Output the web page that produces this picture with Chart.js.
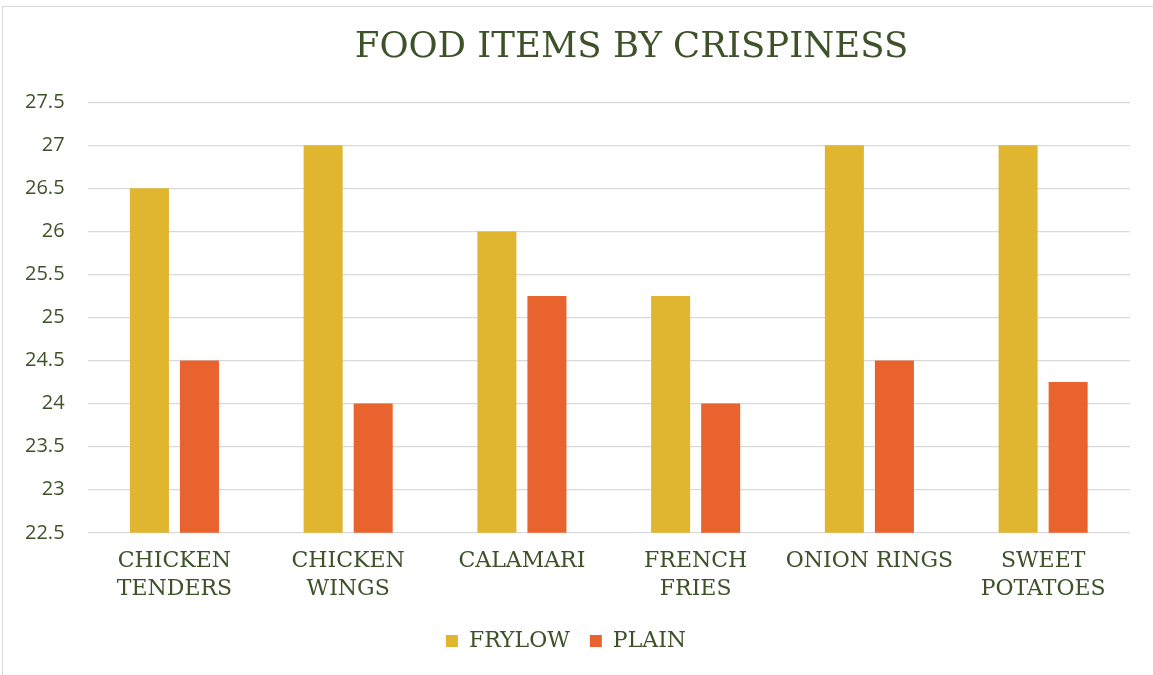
<!DOCTYPE html>
<html>
<head>
<meta charset="utf-8">
<script src="https://cdn.jsdelivr.net/npm/chart.js@4"></script>
<style>
  html, body { margin: 0; padding: 0; background: #fff; overflow: hidden; }
  #frame { position: absolute; left: 2px; top: 6px; width: 1160px; height: 680px; border: 1px solid #d9d9d9; }
  #wrap { position: absolute; left: 0; top: 0; width: 1153px; height: 675px; }
</style>
</head>
<body>
<div id="frame"></div>
<div id="wrap"><canvas id="chart"></canvas></div>
<script>
// food items, split over two lines like the original
var categories = [
  ["CHICKEN", "TENDERS"],
  ["CHICKEN", "WINGS"],
  "CALAMARI",
  ["FRENCH", "FRIES"],
  "ONION RINGS",
  ["SWEET", "POTATOES"]
];
var frylow = [26.5, 27, 26, 25.25, 27, 27];
var plain = [24.5, 24, 25.25, 24, 24.5, 24.25];
var yTicks = ["22.5", "23", "23.5", "24", "24.5", "25", "25.5", "26", "26.5", "27", "27.5"];
var titleText = "FOOD ITEMS BY CRISPINESS";

var green = "#3e5229";
var serif = "'DejaVu Serif', serif";

// the title in the original sits a bit right of centre, so draw it ourselves
// (the built-in title stays on, transparent, only to keep its space)
var shiftedTitle = {
  id: "shiftedTitle",
  afterDraw: function (chart) {
    var t = chart.titleBlock;
    var c = chart.ctx;
    c.save();
    c.fillStyle = green;
    c.font = "35.5px " + serif;
    c.textAlign = "center";
    c.textBaseline = "middle";
    c.fillText(titleText, chart.width / 2 + 55, t.top + (t.height - 33) / 2);
    c.restore();
  }
};

var ctx = document.getElementById("chart").getContext("2d");

new Chart(ctx, {
  type: "bar",
  data: {
    labels: categories,
    datasets: [
      { label: "FRYLOW", data: frylow, backgroundColor: "#e0b530" },
      { label: "PLAIN", data: plain, backgroundColor: "#e8632e" }
    ]
  },
  plugins: [shiftedTitle],
  options: {
    responsive: true,
    maintainAspectRatio: false,
    animation: false,
    categoryPercentage: 0.576,
    barPercentage: 0.78,
    layout: { padding: { top: 26, left: 2, right: 23, bottom: 13 } },
    plugins: {
      title: {
        display: true,
        text: titleText,
        color: "rgba(0,0,0,0)",
        font: { family: serif, size: 36, weight: "normal" },
        padding: { top: 0, bottom: 33 }
      },
      legend: {
        position: "bottom",
        labels: {
          color: green,
          boxWidth: 12,
          boxHeight: 12,
          padding: 20,
          font: { family: serif, size: 22 }
        }
      },
      tooltip: { enabled: false }
    },
    scales: {
      x: {
        grid: { display: false },
        border: { display: false },
        ticks: {
          color: green,
          maxRotation: 0,
          autoSkip: false,
          padding: 6,
          font: { family: serif, size: 22, lineHeight: 1.3 }
        }
      },
      y: {
        min: 22.5,
        max: 27.5,
        grid: { color: "#d9d9d9", lineWidth: 1.3, drawTicks: false },
        border: { display: false },
        ticks: {
          stepSize: 0.5,
          color: green,
          padding: 23,
          font: { family: "'Open Sans', sans-serif", size: 20 },
          callback: function (v, i) { return yTicks[i]; }
        }
      }
    }
  }
});
</script>
</body>
</html>
